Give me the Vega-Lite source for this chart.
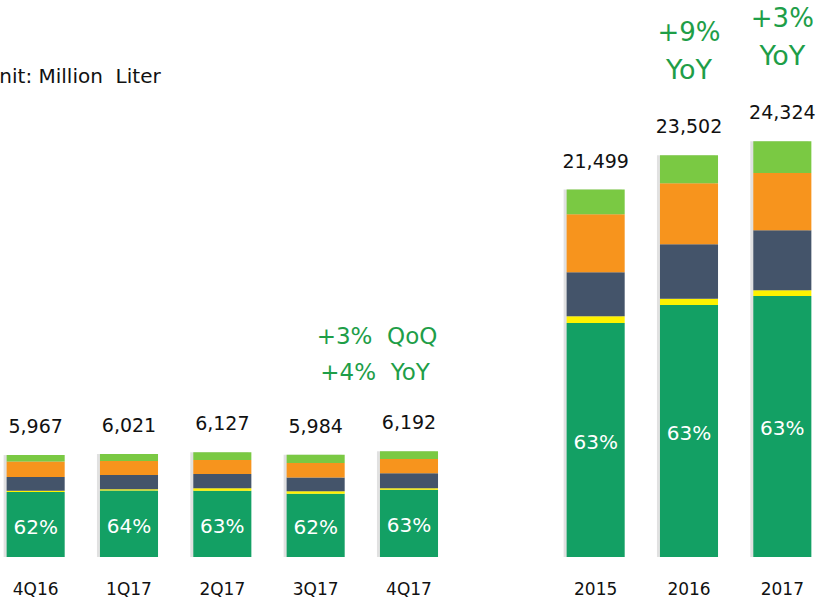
{
  "$schema": "https://vega.github.io/schema/vega-lite/v6.json",
  "width": 825,
  "height": 557,
  "autosize": {"type": "none"},
  "padding": {"left": 0, "top": 0, "right": 0, "bottom": 44},
  "config": {"view": {"stroke": null}, "font": "DejaVu Sans"},
  "datasets": {
    "segments": [
      {"period": "4Q16", "segment": "Segment A", "value": 3800, "share": "62%"},
      {"period": "4Q16", "segment": "Segment B", "value": 75},
      {"period": "4Q16", "segment": "Segment C", "value": 800},
      {"period": "4Q16", "segment": "Segment D", "value": 915},
      {"period": "4Q16", "segment": "Segment E", "value": 377},
      {"period": "1Q17", "segment": "Segment A", "value": 3890, "share": "64%"},
      {"period": "1Q17", "segment": "Segment B", "value": 70},
      {"period": "1Q17", "segment": "Segment C", "value": 840},
      {"period": "1Q17", "segment": "Segment D", "value": 820},
      {"period": "1Q17", "segment": "Segment E", "value": 401},
      {"period": "2Q17", "segment": "Segment A", "value": 3880, "share": "63%"},
      {"period": "2Q17", "segment": "Segment B", "value": 140},
      {"period": "2Q17", "segment": "Segment C", "value": 840},
      {"period": "2Q17", "segment": "Segment D", "value": 820},
      {"period": "2Q17", "segment": "Segment E", "value": 447},
      {"period": "3Q17", "segment": "Segment A", "value": 3700, "share": "62%"},
      {"period": "3Q17", "segment": "Segment B", "value": 150},
      {"period": "3Q17", "segment": "Segment C", "value": 800},
      {"period": "3Q17", "segment": "Segment D", "value": 855},
      {"period": "3Q17", "segment": "Segment E", "value": 479},
      {"period": "4Q17", "segment": "Segment A", "value": 3940, "share": "63%"},
      {"period": "4Q17", "segment": "Segment B", "value": 80},
      {"period": "4Q17", "segment": "Segment C", "value": 880},
      {"period": "4Q17", "segment": "Segment D", "value": 840},
      {"period": "4Q17", "segment": "Segment E", "value": 452},
      {"period": "2015", "segment": "Segment A", "value": 13690, "share": "63%"},
      {"period": "2015", "segment": "Segment B", "value": 390},
      {"period": "2015", "segment": "Segment C", "value": 2575},
      {"period": "2015", "segment": "Segment D", "value": 3393},
      {"period": "2015", "segment": "Segment E", "value": 1451},
      {"period": "2016", "segment": "Segment A", "value": 14740, "share": "63%"},
      {"period": "2016", "segment": "Segment B", "value": 375},
      {"period": "2016", "segment": "Segment C", "value": 3177},
      {"period": "2016", "segment": "Segment D", "value": 3568},
      {"period": "2016", "segment": "Segment E", "value": 1642},
      {"period": "2017", "segment": "Segment A", "value": 15270, "share": "63%"},
      {"period": "2017", "segment": "Segment B", "value": 333},
      {"period": "2017", "segment": "Segment C", "value": 3510},
      {"period": "2017", "segment": "Segment D", "value": 3352},
      {"period": "2017", "segment": "Segment E", "value": 1859}
    ],
    "totals": [
      {"period": "4Q16", "kind": "quarter", "total": 5967},
      {"period": "1Q17", "kind": "quarter", "total": 6021},
      {"period": "2Q17", "kind": "quarter", "total": 6127},
      {"period": "3Q17", "kind": "quarter", "total": 5984},
      {"period": "4Q17", "kind": "quarter", "total": 6192, "note1": "+3%\u00a0\u00a0QoQ", "note2": "+4%\u00a0\u00a0YoY"},
      {"period": "2015", "kind": "year", "total": 21499},
      {"period": "2016", "kind": "year", "total": 23502, "note1": "+9%", "note2": "YoY"},
      {"period": "2017", "kind": "year", "total": 24324, "note1": "+3%", "note2": "YoY"}
    ],
    "unit": [{"period": "4Q16", "label": "Unit: Million\u00a0 Liter"}]
  },
  "encoding": {
    "x": {
      "field": "period",
      "type": "nominal",
      "scale": {
        "domain": ["4Q16", "1Q17", "2Q17", "3Q17", "4Q17", " ", "2015", "2016", "2017"],
        "range": [-11, 829],
        "paddingInner": 0.378,
        "paddingOuter": 0.189
      },
      "axis": {
        "title": null,
        "domain": false,
        "ticks": false,
        "labelAngle": 0,
        "labelFontSize": 17,
        "labelColor": "#111111",
        "labelPadding": 24,
        "labelFont": "DejaVu Sans"
      }
    }
  },
  "layer": [
    {
      "data": {"name": "totals"},
      "mark": {"type": "bar", "xOffset": -3, "color": "#9a9a9a", "opacity": 0.3},
      "encoding": {
        "y": {"field": "total", "type": "quantitative", "axis": null, "scale": {"domain": [0, 32585], "nice": false}}
      }
    },
    {
      "data": {"name": "segments"},
      "mark": {"type": "bar"},
      "encoding": {
        "y": {"field": "value", "type": "quantitative", "stack": "zero", "axis": null, "scale": {"domain": [0, 32585], "nice": false}},
        "color": {
          "field": "segment",
          "type": "nominal",
          "legend": null,
          "scale": {
            "domain": ["Segment A", "Segment B", "Segment C", "Segment D", "Segment E"],
            "range": ["#13A064", "#FFF200", "#44546A", "#F7941D", "#7AC943"]
          }
        },
        "order": {"field": "segment", "type": "ordinal", "sort": "ascending"}
      }
    },
    {
      "data": {"name": "segments"},
      "transform": [
        {"filter": "isValid(datum.share)"},
        {"calculate": "datum.value / 2", "as": "mid"}
      ],
      "mark": {"type": "text", "color": "white", "fontSize": 20, "baseline": "middle", "dy": 3},
      "encoding": {
        "y": {"field": "mid", "type": "quantitative", "axis": null, "scale": {"domain": [0, 32585], "nice": false}},
        "text": {"field": "share", "type": "nominal"}
      }
    },
    {
      "data": {"name": "totals"},
      "mark": {"type": "text", "color": "#111111", "fontSize": 19, "baseline": "alphabetic", "dy": -22},
      "encoding": {
        "y": {"field": "total", "type": "quantitative", "axis": null, "scale": {"domain": [0, 32585], "nice": false}},
        "text": {"field": "total", "type": "quantitative", "format": ","}
      }
    },
    {
      "data": {"name": "totals"},
      "transform": [{"filter": "datum.kind == 'quarter' && isValid(datum.note1)"}],
      "layer": [
        {
          "mark": {"type": "text", "color": "#1E9E48", "fontSize": 23, "baseline": "middle", "dx": -32, "dy": -114},
          "encoding": {
            "y": {"field": "total", "type": "quantitative", "axis": null, "scale": {"domain": [0, 32585], "nice": false}},
            "text": {"field": "note1", "type": "nominal"}
          }
        },
        {
          "mark": {"type": "text", "color": "#1E9E48", "fontSize": 23, "baseline": "middle", "dx": -34, "dy": -78},
          "encoding": {
            "y": {"field": "total", "type": "quantitative", "axis": null, "scale": {"domain": [0, 32585], "nice": false}},
            "text": {"field": "note2", "type": "nominal"}
          }
        }
      ]
    },
    {
      "data": {"name": "totals"},
      "transform": [{"filter": "datum.kind == 'year' && isValid(datum.note1)"}],
      "layer": [
        {
          "mark": {"type": "text", "color": "#1E9E48", "fontSize": 26, "baseline": "middle", "dy": -122},
          "encoding": {
            "y": {"field": "total", "type": "quantitative", "axis": null, "scale": {"domain": [0, 32585], "nice": false}},
            "text": {"field": "note1", "type": "nominal"}
          }
        },
        {
          "mark": {"type": "text", "color": "#1E9E48", "fontSize": 27, "baseline": "middle", "dy": -84},
          "encoding": {
            "y": {"field": "total", "type": "quantitative", "axis": null, "scale": {"domain": [0, 32585], "nice": false}},
            "text": {"field": "note2", "type": "nominal"}
          }
        }
      ]
    },
    {
      "data": {"name": "unit"},
      "mark": {"type": "text", "color": "#111111", "fontSize": 20, "align": "left", "baseline": "alphabetic", "dx": -51},
      "encoding": {
        "y": {"datum": 27730, "type": "quantitative", "axis": null, "scale": {"domain": [0, 32585], "nice": false}},
        "text": {"field": "label", "type": "nominal"}
      }
    }
  ]
}
